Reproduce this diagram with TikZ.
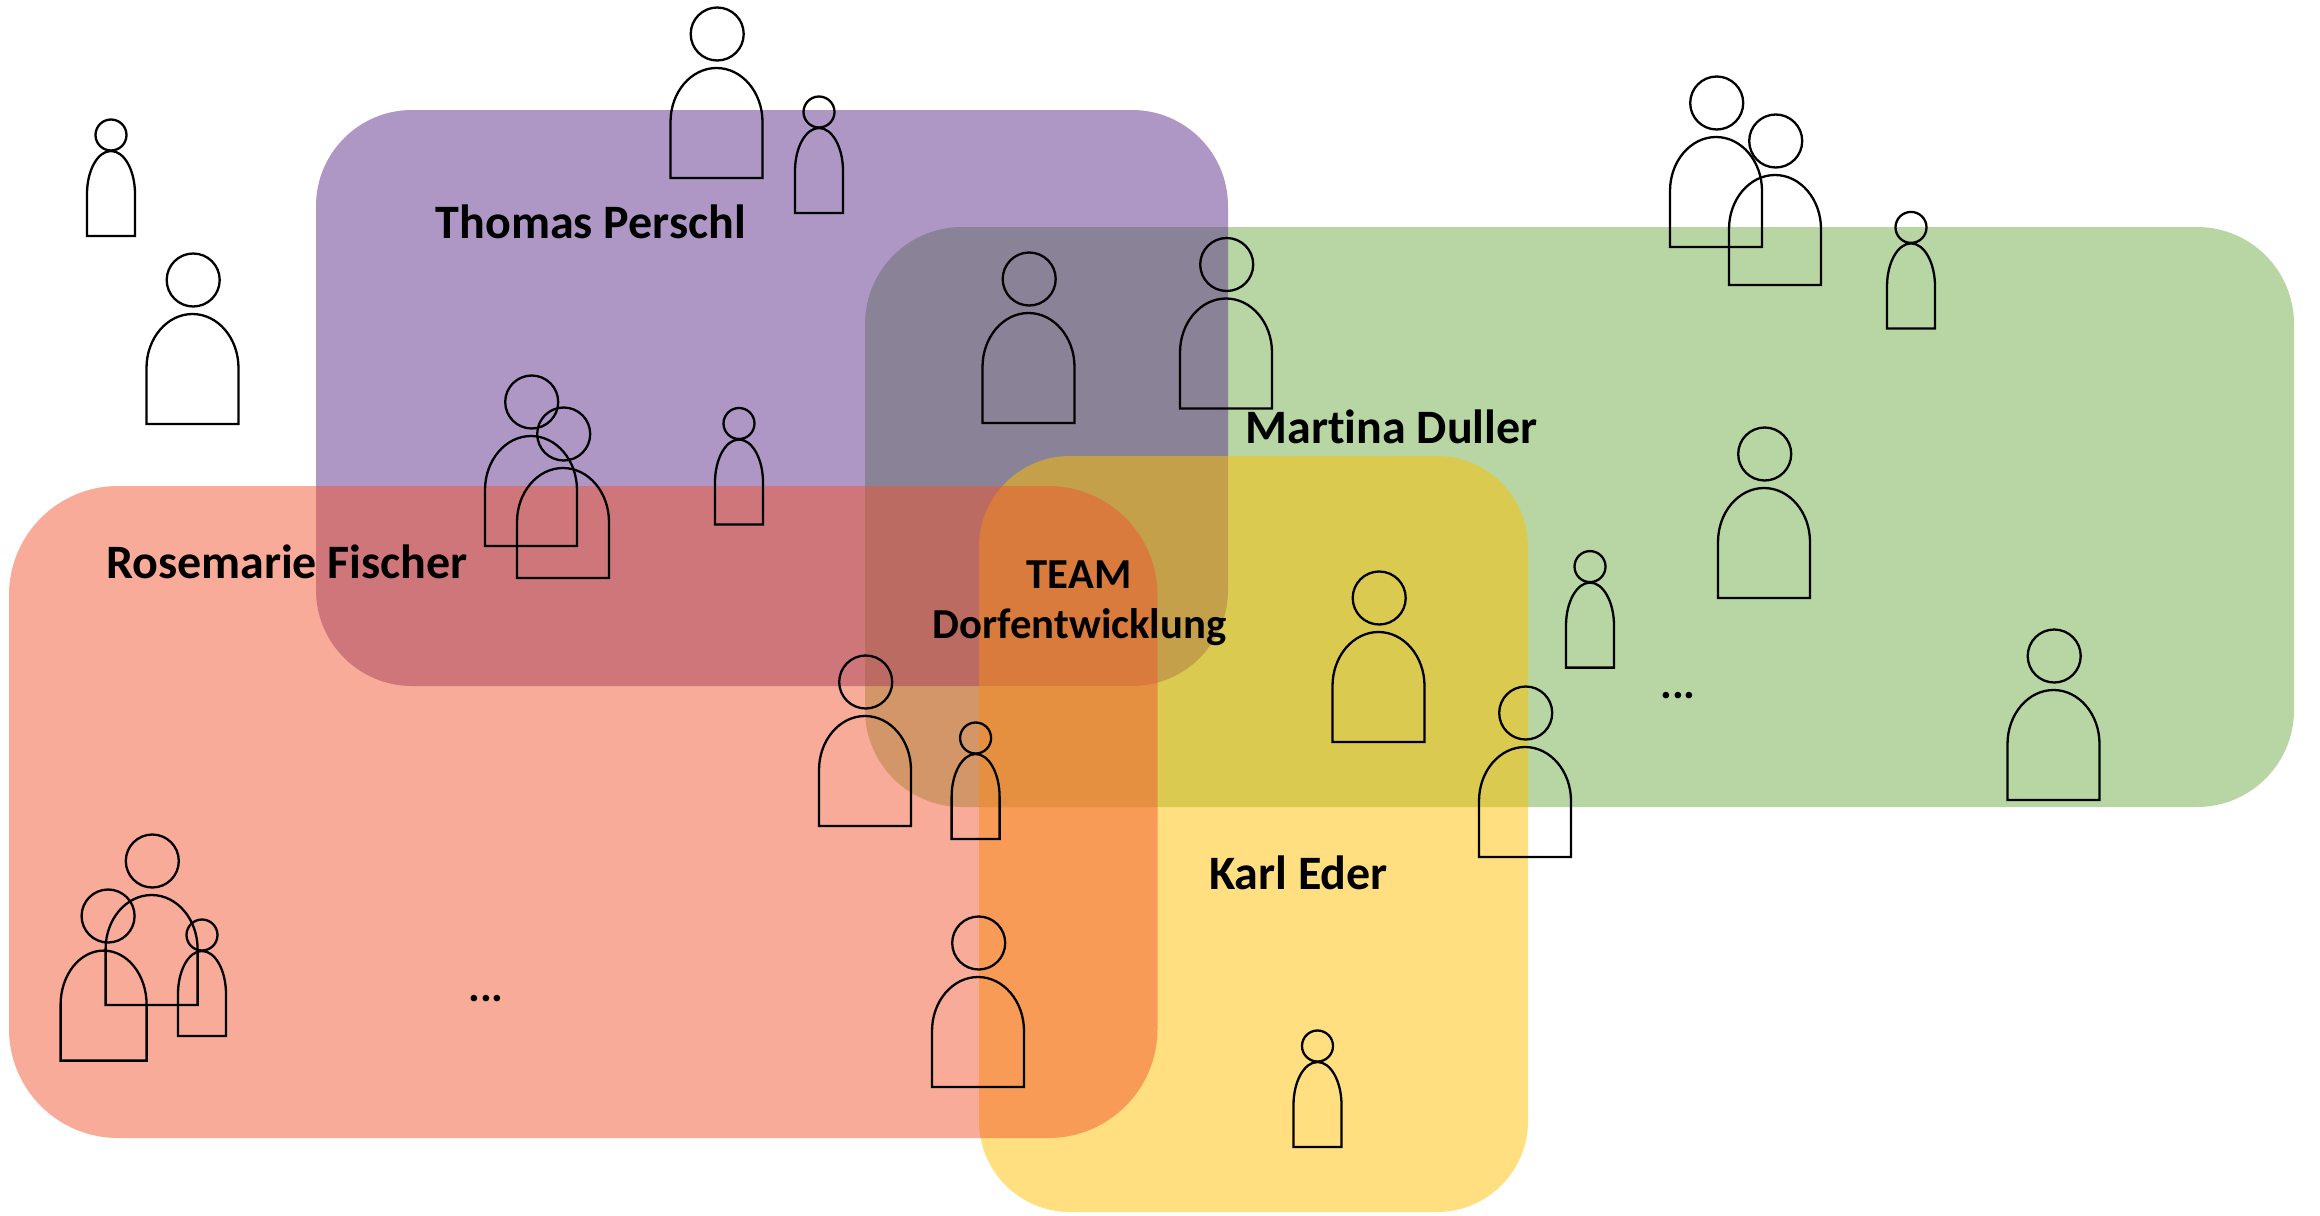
\documentclass[tikz,border=0pt]{standalone}
\usepackage{fontspec}
\setmainfont{Carlito}[Ligatures=CommonOff]
\definecolor{grpgreen}{HTML}{70AD47}
\definecolor{grppurple}{HTML}{5D2F8B}
\definecolor{grpyellow}{HTML}{FFC000}
\definecolor{grporange}{HTML}{EF5731}
\tikzset{
  grpbox/.style={fill opacity=0.5, draw=none},
  personline/.style={draw=black, line width=2.3pt, line join=miter},
  lbl/.style={inner sep=0pt, anchor=base, font=\fontsize{48}{52}\selectfont\bfseries, text=black, align=center},
  lblteam/.style={lbl, font=\fontsize{42.7}{48}\selectfont\bfseries},
  lbldots/.style={lbl, font=\fontsize{44}{48}\selectfont\bfseries}
}
% centre x, bottom y, body half width, body height, arch height, head dx, head centre above bottom, head radius
\newcommand\drawfigure[8]{%
  \draw[personline] (#1-#3,#2) -- (#1-#3,#2-#4+#5)
    .. controls (#1-#3,#2-#4+0.448*#5) and (#1-0.552*#3,#2-#4) .. (#1,#2-#4)
    .. controls (#1+0.552*#3,#2-#4) and (#1+#3,#2-#4+0.448*#5) .. (#1+#3,#2-#4+#5)
    -- (#1+#3,#2) -- cycle;
  \draw[personline] (#1+#6,#2-#7) circle[radius=#8];
}
\newcommand\bigfigure[2]{\drawfigure{#1}{#2}{46}{110}{54}{0.7}{144}{26.5}}
\newcommand\smallfigure[2]{\drawfigure{#1}{#2}{24}{85}{43}{0}{101}{15.5}}
\begin{document}
\begin{tikzpicture}[x=1pt,y=-1pt]
\useasboundingbox (0,0) rectangle (2320,1215);
\fill[grpgreen,grpbox,rounded corners=97pt] (865,227) rectangle (2294,807);
\fill[grppurple,grpbox,rounded corners=96pt] (316,110) rectangle (1228,686);
\fill[grpyellow,grpbox,rounded corners=91pt] (979,456) rectangle (1528,1212);
\fill[grporange,grpbox,rounded corners=109pt] (9,486) rectangle (1157.5,1138);

\foreach \c/\b in {192.5/424,716.5/178,531/546,563/578,1028.5/423,1226/408.5,1716/247,1775/285,1764/598,151.6/1005,865/826,978/1087,1378.5/742,1525/857,2053.5/800}
  {\bigfigure{\c}{\b}}
\drawfigure{103.6}{1060.6}{43}{110}{54}{4.5}{144.6}{26.5}
\foreach \c/\b in {111/236,819/213,739/524.5,1911/328.4,1590/667.6,202/1036,975.6/839,1317.5/1147}
  {\smallfigure{\c}{\b}}

\node[lbl] (thomas) at (591,238.5) {Thomas Perschl};
\node[lbl] (rosemarie) at (287,578.5) {Rosemarie Fischer};
\node[lbl] (martina) at (1391.5,443.5) {Martina Duller};
\node[lbl] (karl) at (1298.5,889.5) {Karl Eder};
\node[lblteam] (team) at (1079,588.5) {TEAM};
\node[lblteam] (dorf) at (1079.5,638.5) {Dorfentwicklung};
\node[lbldots] (dotsa) at (486,1001) {...};
\node[lbldots] (dotsb) at (1678,698) {...};
\end{tikzpicture}
\end{document}
